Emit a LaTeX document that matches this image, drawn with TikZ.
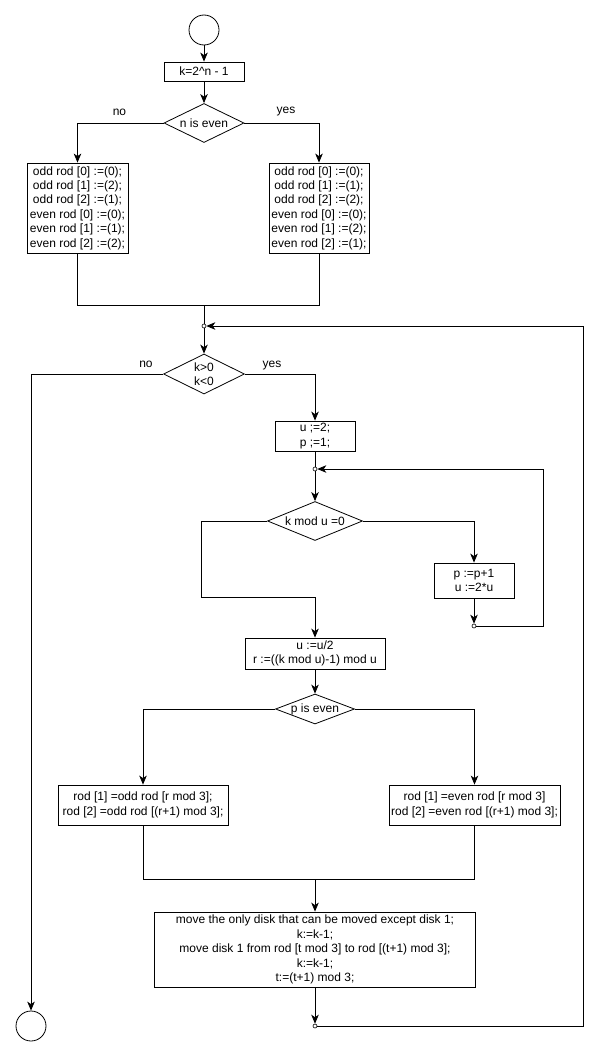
\documentclass[tikz,border=0pt]{standalone}
\usepackage{fontspec}
\setmainfont{Liberation Sans}
\usetikzlibrary{shapes.geometric,arrows.meta}

\begin{document}
\begin{tikzpicture}[x=1pt, y=-1pt, line width=0.8pt,
  every node/.style={font=\fontsize{12}{14.4}\selectfont},
  box/.style={draw, rectangle, align=center, inner sep=0pt},
  decision/.style={draw, diamond, inner sep=0pt},
  dtext/.style={align=center, inner sep=0pt},
  terminal/.style={draw, circle, minimum size=30pt, inner sep=0pt},
  dot/.style={draw, circle, fill=white, minimum size=4pt, inner sep=0pt, line width=0.6pt},
  >={Stealth[length=9pt, width=7.5pt, inset=2.5pt]}]

\useasboundingbox (0,0) rectangle (597,1057);

% start and first test
\node[terminal] (start) at (204,30) {};
\node[box, minimum width=80, minimum height=19] (kinit) at (204,71.5) {k=2\textasciicircum n - 1};
\node[decision, minimum width=80, minimum height=39] (neven) at (204,123) {};
\node[dtext] (neven text) at (neven) {n is even};

\node[box, minimum width=101, minimum height=90] (oddl) at (77.5,208)
  {odd rod [0] :=(0);\\odd rod [1] :=(2);\\odd rod [2] :=(1);\\even rod [0] :=(0);\\even rod [1] :=(1);\\even rod [2] :=(2);};
\node[box, minimum width=100, minimum height=90] (oddr) at (319,208)
  {odd rod [0] :=(0);\\odd rod [1] :=(1);\\odd rod [2] :=(2);\\even rod [0] :=(0);\\even rod [1] :=(2);\\even rod [2] :=(1);};

\node (no1) at (119.5,112) {no};
\node (yes1) at (286,112) {yes};

\coordinate (merge1) at (204,305);
\node[dot] (j1) at (204,326) {};

% main loop
\node[decision, minimum width=81, minimum height=40] (kpos) at (204,374) {};
\node[dtext] (kpos text) at (kpos) {k>0\\k<0};
\node (no2) at (146,364) {no};
\node (yes2) at (272,366) {yes};
\node[terminal] (stop) at (31,1026) {};

\node[box, minimum width=80, minimum height=30] (uinit) at (315,436) {u ;=2;\\p ;=1;};
\node[dot] (j2) at (315,469) {};
\node[decision, minimum width=95, minimum height=39] (kmod) at (315,521) {};
\node[dtext] (kmod text) at (kmod) {k mod u =0};
\node[box, minimum width=80, minimum height=35] (pinc) at (474,580.5) {p :=p+1\\u :=2*u};
\node[dot] (j3) at (474,626) {};
\coordinate (merge2) at (201,597);

\node[box, minimum width=140, minimum height=31] (uhalf) at (315,653.5) {u :=u/2\\r :=((k mod u)-1) mod u};
\node[decision, minimum width=79, minimum height=30] (peven) at (315,709) {};
\node[dtext] (peven text) at (peven) {p is even};

\node[box, minimum width=170, minimum height=40] (rodl) at (143,805)
  {rod [1] =odd rod [r mod 3];\\rod [2] =odd rod [(r+1) mod 3];};
\node[box, minimum width=171, minimum height=40] (rodr) at (474.5,805)
  {rod [1] =even rod [r mod 3]\\rod [2] =even rod [(r+1) mod 3];};
\coordinate (merge3) at (315,879);

\node[box, minimum width=321, minimum height=75] (move) at (315,949.5)
  {move the only disk that can be moved except disk 1;\\k:=k-1;\\move disk 1 from rod [t mod 3] to rod [(t+1) mod 3];\\k:=k-1;\\t:=(t+1) mod 3;};
\node[dot] (j4) at (315,1026) {};

\coordinate (back1) at (583,1026);
\coordinate (back2) at (543,626);

% connectors
\draw[->] (start) -- (kinit);
\draw[->] (kinit) -- (neven);
\draw[->] (neven.west) -| (oddl.north);
\draw[->] (neven.east) -| (oddr.north);
\draw (oddl.south) |- (merge1);
\draw (oddr.south) |- (merge1);
\draw (merge1) -- (j1);
\draw[->] (j1) -- (kpos);

\draw[->] (kpos.west) -| (stop.north);
\draw[->] (kpos.east) -| (uinit.north);
\draw (uinit) -- (j2);
\draw[->] (j2) -- (kmod);
\draw[->] (kmod.east) -| (pinc.north);
\draw[->] (pinc) -- (j3);
\draw[->] (j3) -- (back2) |- (j2);
\draw[->] (kmod.west) -| (merge2) -| (uhalf.north);

\draw[->] (uhalf) -- (peven);
\draw[->] (peven.west) -| (rodl.north);
\draw[->] (peven.east) -| (rodr.north);
\draw (rodl.south) |- (merge3);
\draw (rodr.south) |- (merge3);
\draw[->] (merge3) -- (move);
\draw[->] (move) -- (j4);
\draw[->] (j4) -- (back1) |- (j1);
\end{tikzpicture}
\end{document}
